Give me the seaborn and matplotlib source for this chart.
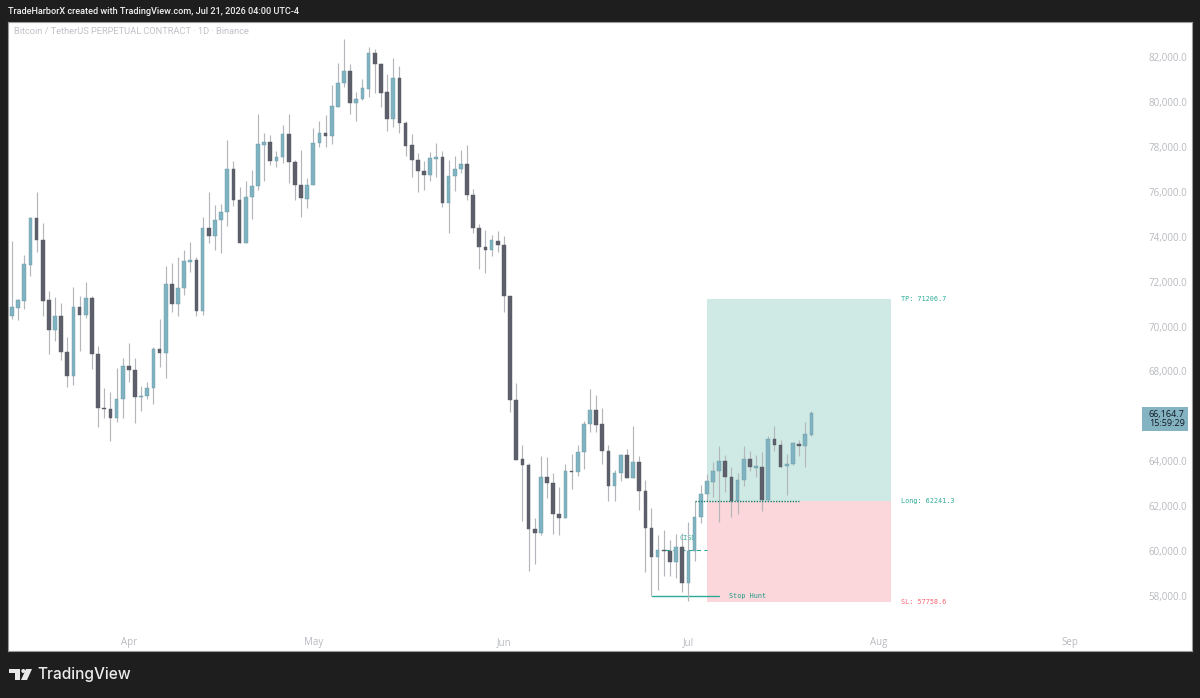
import numpy as np
import pandas as pd
import matplotlib
matplotlib.use('Agg')
import matplotlib.pyplot as plt
import seaborn as sns
from matplotlib.patches import Rectangle, Circle, Polygon
from matplotlib.transforms import Affine2D

# daily candles, first one is Mar 13
opens = [70447,70847,71159,72760,74821,73872,71173,69853,70447,68845,67807,70862,70506,71262,68771,66383,66324,65938,66754,68222,
         68059,66843,66887,67243,68978,68800,71885,71025,71707,72893,72982,70683,74376,74050,74747,75088,77002,75637,73709,75771,
         76246,78085,78204,77373,77551,78589,77314,76291,75697,76291,78159,78619,78500,79790,80829,81392,79939,80117,80591,82163,
         81703,80428,79257,81051,79064,78070,77418,76943,76765,77477,77566,75505,76691,77003,77255,75876,74406,73561,73412,73828,
         73620,71366,66722,64097,63830,60983,60805,63281,63029,61665,61457,63578,63504,64394,65669,66277,65640,64438,62881,63474,
         64260,63266,63963,62658,61012,59752,60063,59989,59500,60197,58580,59989,61516,62540,63088,63578,63993,63296,62228,63163,
         64097,63711,63726,62258,64987,64705,63771,63874,64779,64660,65180]
highs = [73828,71248,73176,74866,75993,74614,71574,71307,71069,69527,71782,71366,71989,71366,69112,67273,67080,68133,68578,69260,
         68592,67347,67540,69082,70328,72715,72849,73116,73427,73768,73101,74866,75993,75400,75459,78292,77358,76201,76497,76972,
         79450,78619,78515,77833,78960,79450,77403,77863,76602,78856,79138,79420,80740,81733,82816,81674,80458,81007,82431,82356,
         81719,81244,81971,81600,79168,78560,77714,77373,77788,78174,77833,77403,77596,77863,78070,76112,74555,74302,74080,74258,
         74035,71366,67490,64735,63919,61472,64245,64171,63474,62836,63889,64334,64720,65773,67241,66944,66381,64735,63622,64334,
         64542,65580,64230,63178,61917,60731,60923,60508,60760,60805,61309,62213,62955,63444,63948,64675,64275,63726,63474,64675,
         64468,64275,64423,65105,65565,64942,64334,64838,64927,65772,66218]
lows = [70328,70269,70803,72256,73338,70476,68756,69334,68519,67303,67392,68904,70358,68118,65523,65909,64900,65760,65909,67525,
        65686,66235,66769,66561,68207,67688,70669,70447,71395,72448,70476,70506,73739,73427,73279,74465,75370,73709,73709,74777,
        76068,76498,77210,77106,77269,76409,75638,74882,75297,76291,78011,78011,78130,79761,80651,79465,79153,80087,80206,80384,
        79790,78708,78871,78604,77596,76661,76009,76098,76498,76676,75327,74185,76039,76854,75638,74184,72553,72404,73146,73338,
        70625,66175,64067,61353,59099,59440,60701,62362,60760,60701,61457,62777,63355,63637,65313,65298,63889,62228,62228,63133,
        63237,63237,61843,59055,57987,58284,58900,58877,58803,58165,57765,59574,61250,62213,62406,61279,62643,61516,61665,62881,
        63548,63296,61798,62258,64438,63726,62510,63845,64245,63726,65135]
closes = [70862,71173,72775,74821,73872,71159,69853,70447,68845,67807,70862,70506,71262,68771,66354,66324,65938,66754,68237,68044,
          66858,66902,67243,68978,68800,71885,71025,71707,72908,72982,70683,74376,74050,74762,75088,77002,75637,73709,75771,76260,
          78115,78204,77388,77551,78589,77314,76291,75712,76291,78174,78619,78500,79820,80844,81392,79939,80117,80606,82163,81689,
          80414,79257,81051,79049,78055,77418,76943,76765,77492,77566,75505,76706,77003,77255,75876,74406,73546,73412,73843,73620,
          71366,66724,64067,63815,60983,60805,63281,63029,61665,61457,63578,63519,64408,65669,66277,65624,64438,62881,63489,64275,
          63266,63963,62658,61012,59752,60048,60004,59514,60182,58580,59989,61531,62555,63103,63578,64008,63296,62228,63178,64097,
          63726,63771,62273,64987,64705,63756,63889,64794,64660,65194,66165]

month_ticks = [19, 49, 80, 110, 141, 172]
month_labels = ['Apr', 'May', 'Jun', 'Jul', 'Aug', 'Sep']
# 66,000 sits behind the last price tag so it has no label
price_ticks = [58000, 60000, 62000, 64000, 68000, 70000, 72000, 74000, 76000, 78000, 80000, 82000]

tp_price = 71206.7
entry_price = 62241.3
sl_price = 57758.6
cisd_price = 60052
stop_hunt_price = 57990
last_price = '66,164.7'
countdown = '15:59:29'

UP = '#7fb3c1'
DOWN = '#5d606b'
WICK = '#b4b6bb'
BG = '#1e1e1e'
TEAL = '#2bab97'
MUTED = '#b8bac0'

sns.set_theme(style='white')
plt.rcParams['font.family'] = ['Open Sans', 'DejaVu Sans']

W, H = 1200, 698
fig = plt.figure(figsize=(12, 6.98), dpi=100, facecolor=BG)
ax = fig.add_axes([8 / W, 1 - 651 / H, (1192 - 8) / W, (651 - 22) / H], facecolor='white')

days = np.arange(len(opens))
df = pd.DataFrame({'day': days, 'open': opens, 'high': highs, 'low': lows, 'close': closes})
df['bottom'] = df[['open', 'close']].min(axis=1)
df['body'] = np.maximum((df['close'] - df['open']).abs(), 45)

# position tool goes under the candles
ax.fill_between([113.05, 143], entry_price, tp_price, color='#cfeae5', lw=0, zorder=1)
ax.fill_between([113.05, 143], sl_price, entry_price, color='#fbd6da', lw=0, zorder=1)

ax.text(109.95, cisd_price + 530, 'CISD', color=TEAL, fontsize=4.9, family='DejaVu Sans Mono',
        ha='center', va='center', zorder=1.5)
ax.plot([106.2, 113], [cisd_price, cisd_price], color=TEAL, lw=0.8, ls=(0, (4, 3)), zorder=1.5)
ax.plot([104.05, 115], [stop_hunt_price, stop_hunt_price], color=TEAL, lw=1.0, zorder=1.5)
ax.plot([111.1, 128], [entry_price, entry_price], color='#14806f', lw=1.0, ls=(0, (1, 1)), zorder=4)

ax.vlines(df['day'], df['low'], df['high'], color=WICK, lw=0.85, zorder=2)

for is_up, colour, edge in [(True, UP, '#6c98a5'), (False, DOWN, '#55585f')]:
    part = df[(df['close'] >= df['open']) == is_up].sort_values('day')
    sns.barplot(data=part, x='day', y='body', bottom=part['bottom'].values, native_scale=True,
                color=colour, saturation=1, width=0.6, errorbar=None,
                edgecolor=edge, linewidth=0.3, zorder=3, ax=ax)

ax.text(116.6, stop_hunt_price + 10, 'Stop Hunt', color='#1d9c88', fontsize=4.9,
        family='DejaVu Sans Mono', va='center', zorder=5)
ax.text(144.6, tp_price, 'TP: 71206.7', color=TEAL, fontsize=4.9, family='DejaVu Sans Mono', va='center')
ax.text(144.6, entry_price, 'Long: 62241.3', color=TEAL, fontsize=4.9, family='DejaVu Sans Mono', va='center')
ax.text(144.6, sl_price, 'SL: 57758.6', color='#f7626e', fontsize=4.9, family='DejaVu Sans Mono', va='center')

ax.set_xlim(-0.65, 191.9)
ax.set_ylim(55555, 83558)
ax.set_xlabel('')
ax.set_ylabel('')
ax.set_xticks(month_ticks)
ax.set_xticklabels(month_labels)
ax.set_yticks(price_ticks)
ax.set_yticklabels([f'{p:,.1f}' for p in price_ticks])
ax.yaxis.tick_right()
ax.tick_params(axis='y', length=0, pad=-31.2, labelsize=7, labelcolor=MUTED)
ax.tick_params(axis='x', length=0, pad=-10.2, labelsize=7, labelcolor=MUTED)
for spine in ax.spines.values():
    spine.set_color('#9a9a9a')
    spine.set_linewidth(0.8)

# pixel coordinates for the chrome around the chart
px = Affine2D().scale(1 / W, -1 / H).translate(0, 1) + fig.transFigure

fig.text(8 / W, 1 - 11 / H, 'TradeHarborX created with TradingView.com, Jul 21, 2026 04:00 UTC-4',
         color='#f0f0f0', fontsize=6.57, family='Roboto', weight='medium', va='center')
ax.text(14 / W, 1 - 32 / H, 'Bitcoin / TetherUS PERPETUAL CONTRACT · 1D · Binance', color='#c0c2c8',
        fontsize=6.7, transform=fig.transFigure, va='center', family='Roboto')

fig.add_artist(Rectangle((1142, 407), 46, 24, transform=px, facecolor='#84b3c1', edgecolor='none', zorder=7))
fig.text(1148.7 / W, 1 - 418.5 / H, last_price + '\n' + countdown, color='#131722', fontsize=6.5,
         va='center', linespacing=1.0, zorder=8)

# logo
fig.add_artist(Polygon([(9, 669), (20, 669), (20, 680), (15, 680), (15, 673), (9, 673)], transform=px,
                       facecolor='#e8e8e8', edgecolor='none'))
fig.add_artist(Circle((23.3, 671), 2, transform=px, facecolor='#e8e8e8', edgecolor='none'))
fig.add_artist(Polygon([(26, 669), (32, 669), (27, 680), (21, 680)], transform=px,
                       facecolor='#e8e8e8', edgecolor='none'))
fig.text(37 / W, 1 - 675 / H, 'TradingView', color='#ececec', fontsize=11.1, family='Inter',
         weight='medium', va='center')

fig.savefig('out.png', dpi=100, facecolor=BG)
